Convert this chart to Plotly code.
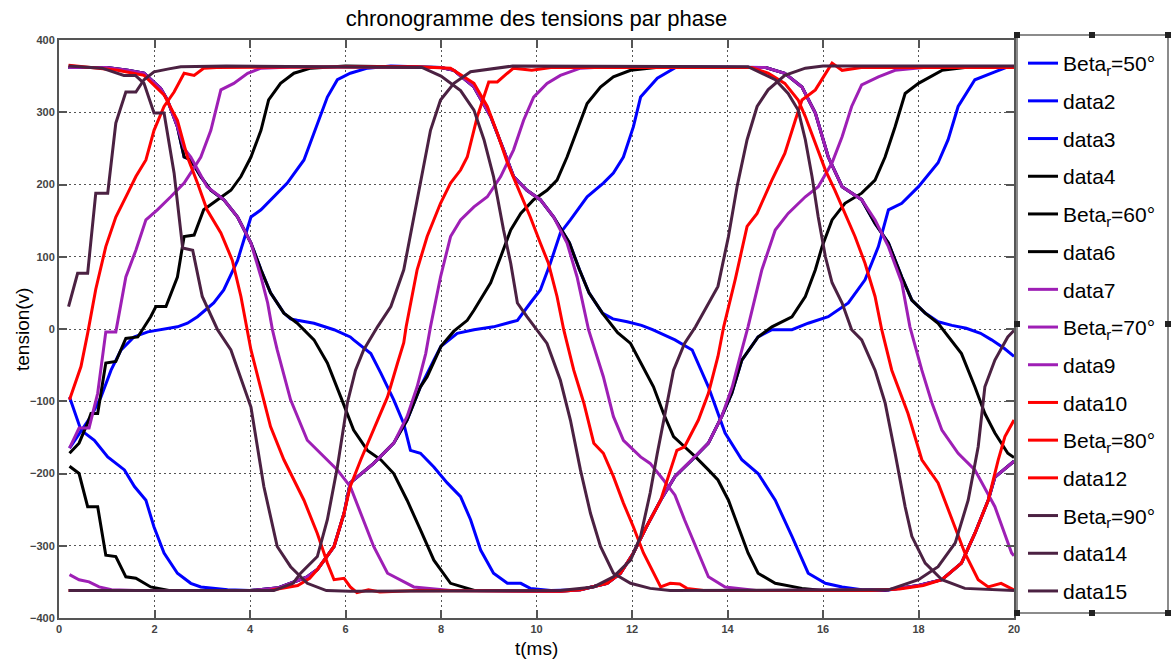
import plotly.graph_objects as go

# ---------------- data (t in ms, tension in V) ----------------
beta50_a = [(0.2,362),(1.0,362),(1.44,358),(1.78,354),(2.13,333),(2.27,317),(2.48,280),(2.62,238),(2.76,234),(2.97,211),(3.18,192),(3.45,179),(3.74,155),(4.02,119),(4.23,82),(4.43,50),(4.71,22),(4.85,14),(4.99,12),(5.34,8),(5.76,-1),(6.1,-11),(6.17,-15),(6.53,-34),(6.74,-61),(7.01,-98),(7.22,-131),(7.36,-168),(7.57,-172),(7.85,-191),(8.13,-213),(8.41,-232),(8.62,-264),(8.83,-306),(9.1,-338),(9.39,-352),(9.67,-352),(9.87,-359),(10.3,-362),(10.92,-361),(11.48,-352),(11.76,-338),(12.03,-310),(12.3,-274),(12.6,-237),(12.9,-204),(13.26,-181),(13.6,-158),(13.88,-121),(14.09,-89),(14.3,-43),(14.64,-11),(14.93,-1),(15.35,-1),(15.69,8),(16.11,17),(16.53,36),(16.88,68),(17.16,114),(17.37,165),(17.65,174),(18.0,197),(18.41,230),(18.62,262),(18.83,308),(19.18,345),(19.6,356),(19.87,363),(20.0,363)]
beta50_b = [(0.22,-94),(0.46,-140),(0.74,-154),(1.02,-177),(1.37,-195),(1.58,-218),(1.82,-237),(1.99,-274),(2.2,-310),(2.48,-338),(2.76,-352),(2.97,-357),(3.53,-361),(4.0,-362),(4.6,-358),(5.2,-343),(5.41,-333),(5.62,-314),(5.76,-301),(5.97,-255),(6.1,-213),(6.59,-186),(7.01,-158),(7.29,-126),(7.57,-80),(7.85,-43),(8.0,-24),(8.34,-6),(8.69,-1),(9.1,3),(9.6,12),(9.87,36),(10.08,54),(10.29,91),(10.5,133),(10.71,151),(11.06,183),(11.4,202),(11.61,216),(11.82,238),(12.03,280),(12.18,321),(12.53,347),(12.94,363),(14.8,362),(15.2,354),(15.56,335),(15.84,299),(16.11,238),(16.4,197),(16.81,179),(17.09,146),(17.37,119),(17.65,72),(17.86,40),(18.14,22),(18.41,10),(18.7,5),(19.0,1),(19.3,-6),(19.53,-15),(19.8,-27),(20.0,-38)]
beta50_c = [(0.22,-165),(0.39,-149),(0.67,-121),(0.88,-94),(1.09,-57),(1.3,-29),(1.57,-11),(1.86,-4),(2.13,-1),(2.48,3),(2.69,8),(2.9,17),(3.24,36),(3.45,54),(3.74,95),(4.02,155),(4.23,165),(4.5,183),(4.78,202),(5.13,234),(5.41,285),(5.62,321),(5.83,345),(6.1,354),(6.46,361),(6.95,364),(8.0,362),(8.27,358),(8.69,335),(9.04,294),(9.31,248),(9.52,211),(9.8,192),(10.08,179),(10.36,155),(10.69,119),(10.9,82),(11.1,50),(11.38,22),(11.6,14),(11.9,10),(12.2,5),(12.43,-1),(12.9,-15),(13.26,-29),(13.6,-80),(13.95,-144),(14.3,-181),(14.64,-200),(15.0,-237),(15.35,-287),(15.69,-338),(16.05,-352),(16.4,-357),(16.81,-361),(17.3,-362),(18.0,-355),(18.49,-347),(18.9,-324),(19.18,-283),(19.46,-237),(19.6,-205),(20.0,-183)]

beta60_a = [(0.2,362),(1.0,362),(1.44,358),(1.78,354),(2.13,333),(2.27,317),(2.48,280),(2.62,238),(2.76,234),(2.97,211),(3.18,192),(3.45,179),(3.74,155),(4.02,119),(4.23,82),(4.43,50),(4.71,22),(4.99,8),(5.34,-15),(5.62,-47),(5.9,-94),(6.17,-140),(6.46,-168),(6.74,-181),(7.01,-200),(7.29,-237),(7.57,-278),(7.85,-320),(8.2,-352),(8.7,-362),(10.5,-363),(10.92,-361),(11.48,-352),(11.76,-338),(12.03,-310),(12.3,-274),(12.6,-237),(12.9,-204),(13.26,-181),(13.6,-158),(13.88,-121),(14.09,-89),(14.3,-43),(14.64,-11),(14.93,3),(15.35,17),(15.63,45),(15.84,82),(15.98,114),(16.19,151),(16.46,174),(16.81,188),(17.09,206),(17.3,238),(17.51,280),(17.72,326),(18.0,340),(18.49,358),(18.97,362),(20.0,362)]
beta60_b = [(0.22,-172),(0.42,-158),(0.6,-130),(0.67,-117),(0.81,-117),(0.98,-47),(1.19,-45),(1.4,-13),(1.65,-11),(1.92,17),(2.03,31),(2.24,31),(2.48,72),(2.62,128),(2.83,130),(3.03,165),(3.32,179),(3.6,192),(3.81,211),(4.02,238),(4.23,275),(4.39,317),(4.64,340),(4.92,354),(5.27,361),(6.0,364),(8.0,362),(8.27,358),(8.69,335),(9.04,294),(9.31,248),(9.52,211),(9.8,192),(10.08,179),(10.36,155),(10.69,119),(10.9,82),(11.1,50),(11.38,22),(11.7,-5),(11.97,-20),(12.18,-47),(12.45,-80),(12.66,-117),(12.87,-149),(13.1,-163),(13.33,-177),(13.6,-195),(13.8,-209),(14.02,-237),(14.23,-274),(14.43,-310),(14.64,-338),(15.0,-352),(15.56,-359),(16.0,-362),(17.37,-361),(18.0,-355),(18.49,-347),(18.9,-324),(19.18,-283),(19.46,-237),(19.6,-205),(20.0,-183)]
beta60_c = [(0.22,-190),(0.42,-200),(0.6,-246),(0.81,-246),(0.98,-313),(1.19,-315),(1.4,-343),(1.61,-345),(1.92,-357),(2.3,-362),(4.0,-362),(4.6,-358),(5.2,-343),(5.41,-333),(5.62,-314),(5.76,-301),(5.97,-255),(6.1,-213),(6.59,-186),(7.01,-158),(7.29,-126),(7.57,-80),(7.71,-66),(8.0,-24),(8.27,-3),(8.55,12),(8.69,26),(9.04,64),(9.25,100),(9.46,137),(9.67,160),(9.94,179),(10.22,192),(10.43,206),(10.64,238),(10.85,275),(11.06,312),(11.34,335),(11.61,349),(11.97,358),(12.5,362),(14.8,362),(15.2,354),(15.56,335),(15.84,299),(16.11,238),(16.4,197),(16.81,179),(17.09,146),(17.37,119),(17.65,72),(17.86,40),(18.14,22),(18.41,8),(18.67,-15),(18.9,-34),(19.18,-80),(19.39,-117),(19.6,-144),(19.87,-172),(20.0,-178)]

beta70_a = [(0.2,362),(1.0,362),(1.44,358),(1.78,354),(2.13,333),(2.27,317),(2.48,280),(2.62,250),(2.76,238),(3.1,197),(3.45,179),(3.74,155),(4.02,119),(4.23,72),(4.37,36),(4.47,-1),(4.57,-29),(4.85,-98),(5.2,-154),(5.55,-177),(5.83,-195),(6.1,-218),(6.32,-255),(6.59,-301),(6.88,-338),(7.43,-357),(8.2,-362),(10.5,-363),(10.92,-361),(11.48,-352),(11.76,-338),(12.03,-310),(12.3,-274),(12.6,-237),(12.9,-204),(13.26,-181),(13.6,-158),(13.88,-121),(14.1,-80),(14.28,-34),(14.43,3),(14.72,82),(15.0,137),(15.27,160),(15.63,183),(15.9,197),(16.19,230),(16.4,266),(16.6,308),(16.81,338),(17.16,349),(17.51,358),(18.1,362),(20.0,362)]
beta70_b = [(0.22,-165),(0.42,-137),(0.63,-137),(0.81,-89),(0.98,-4),(1.19,-4),(1.4,72),(1.61,109),(1.82,151),(2.06,165),(2.34,183),(2.62,202),(2.76,216),(2.97,238),(3.18,275),(3.39,331),(3.66,340),(3.95,354),(4.23,361),(5.0,363),(8.0,362),(8.27,358),(8.69,335),(9.04,294),(9.31,248),(9.52,211),(9.8,192),(10.08,179),(10.36,155),(10.64,119),(10.85,72),(10.98,31),(11.09,-1),(11.2,-24),(11.4,-66),(11.61,-121),(11.82,-154),(12.18,-177),(12.38,-186),(12.66,-209),(12.9,-230),(13.1,-264),(13.33,-301),(13.6,-343),(13.95,-357),(14.6,-362),(17.37,-361),(18.0,-355),(18.49,-347),(18.9,-324),(19.18,-283),(19.46,-237),(19.6,-205),(20.0,-183)]
beta70_c = [(0.22,-340),(0.42,-347),(0.63,-350),(0.84,-357),(1.1,-361),(1.6,-362),(4.0,-362),(4.6,-358),(5.2,-343),(5.41,-333),(5.62,-314),(5.76,-301),(5.97,-255),(6.1,-213),(6.59,-186),(7.01,-158),(7.29,-121),(7.5,-80),(7.68,-34),(7.78,3),(7.99,72),(8.2,128),(8.41,151),(8.69,169),(8.97,183),(9.25,211),(9.52,248),(9.73,289),(9.94,321),(10.22,340),(10.5,351),(10.92,361),(11.5,363),(14.8,362),(15.2,354),(15.56,335),(15.84,299),(16.11,238),(16.4,197),(16.81,179),(17.09,151),(17.37,114),(17.65,64),(17.82,3),(18.07,-57),(18.28,-102),(18.49,-140),(18.83,-172),(19.18,-195),(19.6,-246),(19.95,-310),(20.0,-314)]

beta80_a = [(0.2,365),(1.23,358),(1.78,351),(2.2,324),(2.48,289),(2.69,238),(2.9,202),(3.1,165),(3.39,133),(3.63,95),(3.81,45),(3.95,-1),(4.02,-29),(4.43,-135),(4.71,-181),(5.13,-237),(5.41,-283),(5.62,-324),(5.76,-347),(5.97,-345),(6.1,-357),(6.24,-365),(6.48,-361),(6.72,-364),(7.5,-362),(10.5,-363),(10.92,-361),(11.48,-352),(11.76,-338),(12.03,-310),(12.3,-274),(12.6,-237),(12.94,-168),(13.1,-163),(13.39,-126),(13.6,-89),(13.8,-38),(13.92,3),(14.16,68),(14.41,142),(14.62,160),(14.93,206),(15.2,243),(15.42,289),(15.56,317),(15.84,331),(16.19,368),(16.4,358),(16.8,362),(20.0,362)]
beta80_b = [(0.22,-98),(0.46,-52),(0.6,-6),(0.77,55),(0.98,114),(1.19,155),(1.44,188),(1.61,211),(1.82,234),(1.99,275),(2.2,308),(2.41,328),(2.62,354),(2.83,351),(3.03,361),(3.3,362),(7.5,363),(8.2,361),(8.69,340),(8.97,308),(9.18,271),(9.39,230),(9.6,197),(9.87,155),(10.08,119),(10.25,91),(10.43,45),(10.57,-1),(10.78,-57),(10.99,-102),(11.2,-158),(11.4,-172),(11.61,-204),(11.82,-241),(12.03,-274),(12.24,-310),(12.6,-357),(12.8,-352),(13.0,-353),(13.15,-359),(13.5,-362),(17.0,-362),(17.6,-360),(18.1,-355),(18.49,-347),(18.9,-324),(19.18,-283),(19.46,-237),(19.67,-181),(19.81,-149),(20.0,-126)]
beta80_c = [(0.2,-362),(3.6,-362),(4.4,-362),(5.0,-355),(5.25,-345),(5.41,-333),(5.58,-318),(5.76,-301),(5.97,-255),(6.1,-218),(6.32,-181),(6.59,-140),(6.88,-94),(7.09,-47),(7.22,-19),(7.27,3),(7.5,82),(7.71,128),(7.99,174),(8.2,202),(8.41,220),(8.55,238),(8.76,294),(9.0,342),(9.18,342),(9.39,354),(9.52,361),(9.9,358),(10.3,362),(14.5,362),(14.85,354),(15.2,340),(15.48,317),(15.63,294),(15.84,257),(16.05,220),(16.25,192),(16.46,160),(16.67,128),(16.88,91),(17.09,45),(17.23,-1),(17.44,-57),(17.78,-117),(18.07,-181),(18.41,-213),(18.7,-264),(18.97,-310),(19.25,-347),(19.46,-357),(19.73,-352),(19.87,-357),(20.0,-361)]

beta90_a = [(0.2,364),(0.9,361),(1.36,351),(1.6,351),(1.78,340),(1.99,299),(2.2,299),(2.41,216),(2.59,112),(2.8,109),(3.0,45),(3.32,-1),(3.6,-29),(4.02,-108),(4.29,-218),(4.57,-301),(4.85,-329),(5.2,-352),(5.6,-362),(6.1,-363),(10.5,-362),(11.2,-357),(11.61,-343),(11.97,-320),(12.18,-287),(12.38,-227),(12.53,-172),(12.66,-126),(12.87,-57),(13.1,-20),(13.33,3),(13.8,59),(14.02,128),(14.2,197),(14.41,262),(14.62,308),(14.85,331),(15.2,351),(15.63,361),(16.0,364),(20.0,364)]
beta90_b = [(0.2,31),(0.39,77),(0.6,77),(0.77,188),(1.02,188),(1.19,285),(1.4,328),(1.61,328),(1.78,345),(1.99,356),(2.3,360),(2.55,363),(3.5,364),(7.6,362),(8.0,350),(8.41,330),(8.69,303),(8.9,262),(9.1,211),(9.31,137),(9.46,91),(9.6,36),(9.8,17),(10.0,-1),(10.22,-20),(10.5,-71),(10.71,-126),(10.92,-195),(11.13,-255),(11.34,-301),(11.61,-338),(11.97,-352),(12.38,-359),(12.8,-362),(17.37,-361),(18.0,-347),(18.41,-329),(18.77,-296),(19.04,-237),(19.25,-163),(19.39,-80),(19.6,-43),(19.87,-11),(20.0,-2)]
beta90_c = [(0.2,-362),(4.5,-362),(4.9,-352),(5.06,-338),(5.41,-315),(5.62,-264),(5.83,-191),(6.04,-102),(6.21,-57),(6.38,-29),(6.67,3),(6.95,31),(7.22,82),(7.57,206),(7.78,275),(7.99,317),(8.27,340),(8.62,356),(9.0,359),(9.5,364),(14.43,363),(15.0,345),(15.27,326),(15.48,303),(15.63,262),(15.77,211),(15.9,155),(16.05,100),(16.19,64),(16.4,36),(16.6,-1),(16.81,-15),(17.09,-57),(17.3,-102),(17.51,-172),(17.72,-246),(17.86,-287),(18.14,-324),(18.49,-347),(18.97,-359),(20.0,-362)]

legend_names = ["Beta<sub>r</sub>=50°", "data2", "data3",
                "data4", "Beta<sub>r</sub>=60°", "data6",
                "data7", "Beta<sub>r</sub>=70°", "data9",
                "data10", "Beta<sub>r</sub>=80°", "data12",
                "Beta<sub>r</sub>=90°", "data14", "data15"]
series = [beta50_a, beta50_b, beta50_c,
          beta60_a, beta60_b, beta60_c,
          beta70_a, beta70_b, beta70_c,
          beta80_a, beta80_b, beta80_c,
          beta90_a, beta90_b, beta90_c]

x_ticks = [0, 2, 4, 6, 8, 10, 12, 14, 16, 18, 20]
y_ticks = [-400, -300, -200, -100, 0, 100, 200, 300, 400]

# ---------------- style ----------------
BLUE, BLACK, PURPLE, RED, DPURPLE = "#0000FF", "#000000", "#9E1FB5", "#FF0000", "#4B2142"
colors = [BLUE]*3 + [BLACK]*3 + [PURPLE]*3 + [RED]*3 + [DPURPLE]*3
FONT = "Liberation Sans, Arial, sans-serif"

fig = go.Figure()
for i, (name, pts, col) in enumerate(zip(legend_names, series, colors)):
    xs = [p[0] for p in pts]
    ys = [p[1] for p in pts]
    fig.add_trace(go.Scatter(x=xs, y=ys, mode="lines", name=name,
                             legendgroup="g%d" % i,
                             line=dict(color=col, width=3)))

# plot area in pixels
L, R, T, B = 59, 1014, 40, 618
W, H = 1176, 663
def px_x(px):
    return (px - L) / (R - L)
def px_y(py):
    return (B - py) / (B - T)

axis_common = dict(showgrid=True, gridcolor="#555555", griddash="2px,3px", gridwidth=1,
                   showline=True, linecolor="#555555", linewidth=2, mirror="ticks",
                   ticks="inside", ticklen=8, tickcolor="#555555", tickwidth=1.5,
                   zeroline=False,
                   tickfont=dict(family=FONT, size=11, color="#444444", weight="bold"))

fig.update_layout(
    width=W, height=H,
    margin=dict(l=L, r=W - R, t=T, b=H - B, autoexpand=False),
    paper_bgcolor="white", plot_bgcolor="white",
    title=dict(text="chronogramme des tensions par phase", x=0.5, xref="paper", xanchor="center",
               y=1 - 18 / H, yref="container", yanchor="middle",
               font=dict(family=FONT, size=22, color="black")),
    xaxis=dict(range=[0, 20], tickvals=x_ticks, **axis_common),
    yaxis=dict(range=[-400, 400], tickvals=y_ticks, **axis_common),
    showlegend=True,
    legend=dict(x=px_x(1023), y=px_y(43), xanchor="left", yanchor="top",
                bgcolor="rgba(255,255,255,0)", borderwidth=0,
                font=dict(family=FONT, size=21, color="black"),
                traceorder="grouped", tracegroupgap=7.4, itemwidth=30),
    annotations=[
        dict(text="t(ms)", x=0.5, xref="paper", y=px_y(648), yref="paper",
             xanchor="center", yanchor="middle", showarrow=False,
             font=dict(family=FONT, size=19, color="black")),
        dict(text="tension(v)", x=(22 - L) / (R - L), xref="paper", y=px_y(330), yref="paper",
             xanchor="center", yanchor="middle", showarrow=False, textangle=-90,
             font=dict(family=FONT, size=19, color="black")),
    ],
)
try:
    fig.update_layout(legend_maxheight=650)
except Exception:
    pass

shapes = [dict(type="rect", xref="paper", yref="paper",
               x0=px_x(1017), x1=px_x(1168), y0=px_y(613), y1=px_y(35),
               line=dict(color="#666666", width=1.5), fillcolor="rgba(0,0,0,0)", layer="above")]
for hx, hy in [(1017, 35), (1092, 35), (1168, 35), (1017, 324), (1168, 324),
               (1017, 613), (1092, 613), (1168, 613)]:
    shapes.append(dict(type="rect", xref="paper", yref="paper",
                       xsizemode="pixel", ysizemode="pixel",
                       xanchor=px_x(hx), yanchor=px_y(hy),
                       x0=-3, x1=3, y0=-3, y1=3,
                       line=dict(color="black", width=0), fillcolor="#222222", layer="above"))
fig.update_layout(shapes=shapes)

fig.write_html("out.html")
